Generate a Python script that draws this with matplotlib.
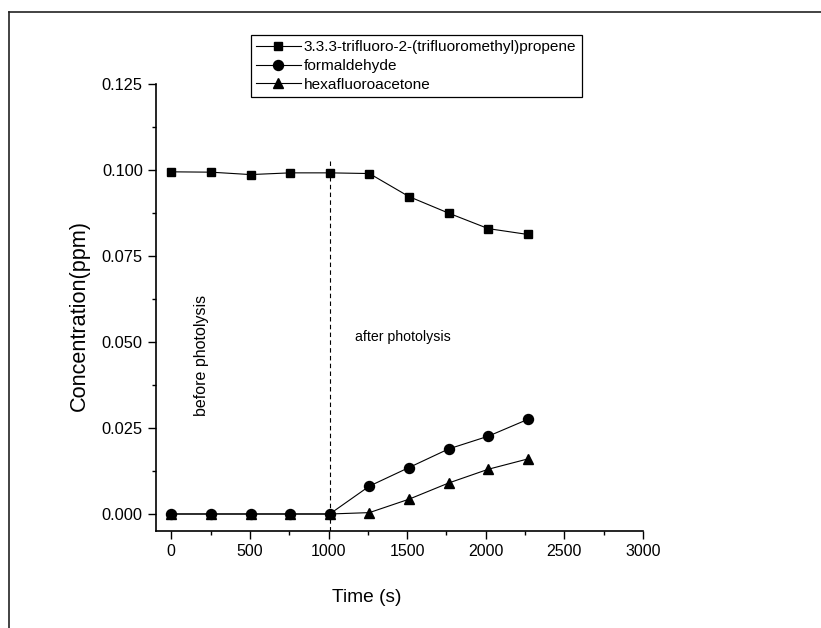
import numpy as np
import matplotlib.pyplot as plt
from matplotlib.lines import Line2D

# ------------------------------------------------
# Data
# ------------------------------------------------
time_s = [0, 252, 504, 756, 1008, 1260, 1512, 1764, 2016, 2268]
propene = [0.0994, 0.0993, 0.0986, 0.0991, 0.0991, 0.0989, 0.0922, 0.0874, 0.0829, 0.0812]
formaldehyde = [0, 0, 0, 0, 0, 0.0081, 0.0135, 0.0189, 0.0226, 0.0275]
hexafluoroacetone = [0, 0, 0, 0, 0, 0.0004, 0.0043, 0.0090, 0.0130, 0.0160]
labels = ["3.3.3-trifluoro-2-(trifluoromethyl)propene", "formaldehyde", "hexafluoroacetone"]
photolysis_start = 1008

plt.rcParams["font.family"] = ["Liberation Sans", "DejaVu Sans"]

fig = plt.figure(figsize=(8.21, 6.28), dpi=100)
ax = fig.add_axes([156 / 821, 1 - 531 / 628, (643 - 156) / 821, (531 - 83.7) / 628])

# series
ax.plot(time_s, propene, color="black", lw=0.8, marker="s", ms=6.3, label=labels[0])
ax.plot(time_s, formaldehyde, color="black", lw=0.8, marker="o", ms=7.2, label=labels[1])
ax.plot(time_s, hexafluoroacetone, color="black", lw=0.8, marker="^", ms=7.2, label=labels[2])

# photolysis marker line
ax.plot([photolysis_start, photolysis_start], [-0.005, 0.1028], color="black",
        lw=0.8, ls=(0, (4, 3)))

ax.text(195, 0.046, "before photolysis", rotation=90, ha="center", va="center",
        fontsize=11.5)
ax.text(1170, 0.0514, "after photolysis", ha="left", va="center", fontsize=10.2)

# axes styling (Origin-like: only left and bottom spines)
ax.set_xlim(-97, 3000)
ax.set_ylim(-0.00494, 0.125)
for s in ["top", "right"]:
    ax.spines[s].set_visible(False)
for s in ["left", "bottom"]:
    ax.spines[s].set_linewidth(1.2)

ax.set_xticks(np.arange(0, 3001, 500))
ax.set_xticks(np.arange(0, 3001, 250), minor=True)
ax.set_yticks(np.arange(0, 0.1251, 0.025))
ax.set_yticks(np.arange(0, 0.1251, 0.0125), minor=True)
ax.yaxis.set_major_formatter(plt.FormatStrFormatter("%.3f"))
ax.tick_params(which="major", length=6, width=1, pad=3.5)
ax.tick_params(axis="x", labelsize=11.5)
ax.tick_params(axis="y", labelsize=11.8)
ax.tick_params(which="minor", length=3, width=1)

ax.set_xlabel("Time (s)", fontsize=13.8)
ax.xaxis.set_label_coords(0.433, -0.1476)
ax.xaxis.label.set_va("center")
ax.set_ylabel("Concentration(ppm)", fontsize=15.6)
ax.yaxis.set_label_coords(-0.158, 0.481)
ax.yaxis.label.set_va("center")

leg = fig.legend(loc="upper left", bbox_to_anchor=(250.7 / 821, 1 - 35 / 628),
                 borderaxespad=0, fontsize=11.1, handlelength=2.9, handletextpad=0.2,
                 labelspacing=0.3, borderpad=0.35, fancybox=False, edgecolor="black",
                 framealpha=1)
leg.get_frame().set_linewidth(0.9)

# partial outer frame (top and left edges)
fig.add_artist(Line2D([8.5 / 821, 8.5 / 821], [0, 1 - 11.7 / 628], color="#222222",
                      lw=1.2, transform=fig.transFigure))
fig.add_artist(Line2D([8.5 / 821, 1], [1 - 11.7 / 628, 1 - 11.7 / 628], color="#222222",
                      lw=1.2, transform=fig.transFigure))

fig.savefig("out.png", dpi=100)
